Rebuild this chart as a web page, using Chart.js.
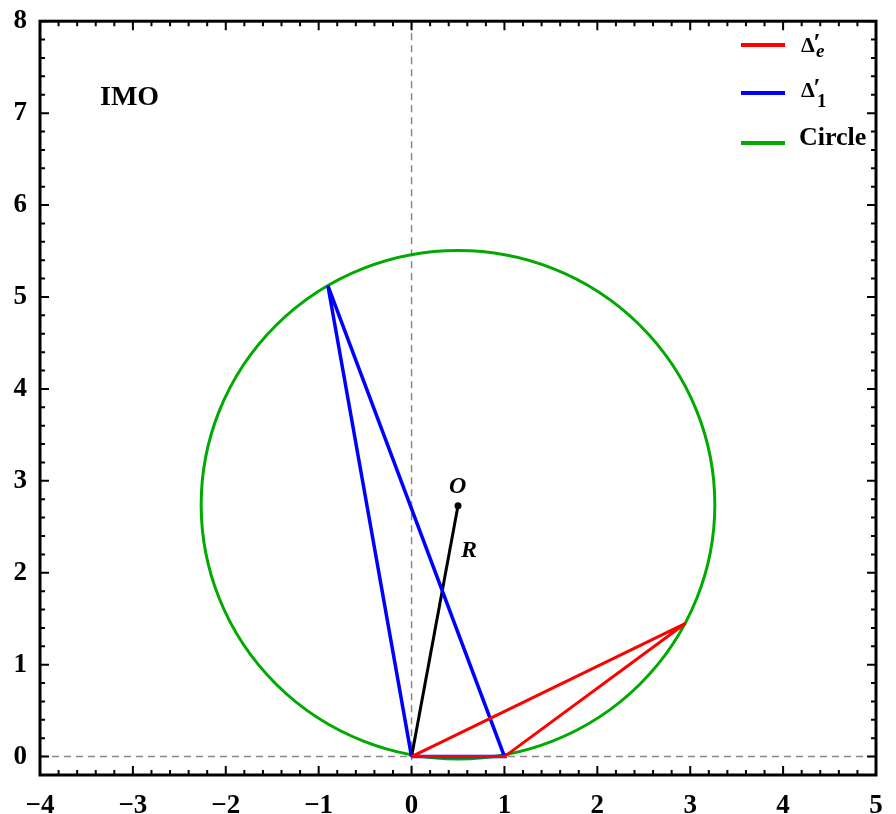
<!DOCTYPE html>
<html>
<head>
<meta charset="utf-8">
<script src="https://cdn.jsdelivr.net/npm/chart.js@4.4.1/dist/chart.umd.min.js"></script>
<style>
  html, body { margin: 0; padding: 0; background: #fff; }
  #wrap { width: 896px; height: 814px; }
</style>
</head>
<body>
<div id="wrap"><canvas id="myChart"></canvas></div>
<script>
// Datos de la figura
const xTicks = [-4, -3, -2, -1, 0, 1, 2, 3, 4, 5]
const yTicks = [0, 1, 2, 3, 4, 5, 6, 7, 8]
const redX = [0, 1, 2.95, 0]
const redY = [0, 0, 1.45, 0]
const blueX = [0, 1, -0.9, 0]
const blueY = [0, 0, 5.12, 0]
const radiusX = [0, 0.5]
const radiusY = [0, 2.73]
const circleCenter = [0.5, 2.74]
const circleRadius = [2.765]
const legendLabels = ['Δ′e', 'Δ′1', 'Circle']

const serif = "'Liberation Serif', 'Times New Roman', serif"
const toPoints = (xs, ys) => xs.map((x, i) => ({ x, y: ys[i] }))

// Circulo, lineas punteadas y marco con ticks
const fondoPlugin = {
    id: 'fondo',
    beforeDatasetsDraw(chart) {
        const { ctx, chartArea: a, scales: { x, y } } = chart
        ctx.save()
        // lineas punteadas en x=0 e y=0
        ctx.strokeStyle = '#888'
        ctx.lineWidth = 1.5
        ctx.setLineDash([7, 5])
        ctx.beginPath()
        ctx.moveTo(x.getPixelForValue(0), a.top)
        ctx.lineTo(x.getPixelForValue(0), a.bottom)
        ctx.moveTo(a.left, y.getPixelForValue(0))
        ctx.lineTo(a.right, y.getPixelForValue(0))
        ctx.stroke()
        ctx.setLineDash([])
        // circulo
        const cx = x.getPixelForValue(circleCenter[0])
        const cy = y.getPixelForValue(circleCenter[1])
        const rx = x.getPixelForValue(circleCenter[0] + circleRadius[0]) - cx
        const ry = cy - y.getPixelForValue(circleCenter[1] + circleRadius[0])
        ctx.strokeStyle = '#00aa00'
        ctx.lineWidth = 3
        ctx.beginPath()
        ctx.ellipse(cx, cy, rx, ry, 0, 0, Math.PI * 2)
        ctx.stroke()
        ctx.restore()
    },
    afterDraw(chart) {
        const { ctx, chartArea: a, scales: { x, y } } = chart
        ctx.save()
        ctx.strokeStyle = '#000'
        ctx.lineWidth = 2
        ctx.beginPath()
        for (let v = -4; v <= 5.001; v += 0.2) {
            const px = x.getPixelForValue(v)
            const len = Math.abs(v - Math.round(v)) < 1e-6 ? 9 : 5
            ctx.moveTo(px, a.bottom); ctx.lineTo(px, a.bottom - len)
            ctx.moveTo(px, a.top); ctx.lineTo(px, a.top + len)
        }
        for (let v = 0; v <= 8.001; v += 0.2) {
            const py = y.getPixelForValue(v)
            const len = Math.abs(v - Math.round(v)) < 1e-6 ? 9 : 5
            ctx.moveTo(a.left, py); ctx.lineTo(a.left + len, py)
            ctx.moveTo(a.right, py); ctx.lineTo(a.right - len, py)
        }
        ctx.stroke()
        ctx.lineWidth = 3
        ctx.strokeRect(a.left, a.top, a.right - a.left, a.bottom - a.top)

        // textos
        ctx.fillStyle = '#000'
        ctx.textBaseline = 'alphabetic'
        ctx.font = `bold 28px ${serif}`
        ctx.fillText('IMO', 100, 105)
        ctx.font = `italic bold 24px ${serif}`
        ctx.fillText('O', 449, 493)
        ctx.fillText('R', 461, 557)

        // leyenda
        const colores = chart.data.datasets.slice(0, 2).map(d => d.borderColor).concat(['#00aa00'])
        const filas = [45, 93, 143]
        filas.forEach((ly, i) => {
            ctx.strokeStyle = colores[i]
            ctx.lineWidth = 4
            ctx.beginPath()
            ctx.moveTo(741, ly); ctx.lineTo(785, ly)
            ctx.stroke()
        })
        ctx.font = `bold 22px ${serif}`
        ctx.fillText('Δ', 801, 52)
        ctx.fillText('Δ', 801, 97)
        ctx.font = `italic bold 26px ${serif}`
        ctx.fillText('′', 813, 51)
        ctx.fillText('′', 813, 96)
        ctx.font = `italic bold 19px ${serif}`
        ctx.fillText('e', 816, 57)
        ctx.font = `bold 19px ${serif}`
        ctx.fillText('1', 817, 107)
        ctx.font = `bold 26px ${serif}`
        ctx.fillText(legendLabels[2], 799, 145)
        ctx.restore()
    }
}

const ctx = document.getElementById('myChart')
new Chart(ctx, {
    type: 'scatter',
    data: {
        datasets: [
            { label: legendLabels[0], data: toPoints(redX, redY), showLine: true, borderColor: '#ff0000', borderWidth: 3, pointRadius: 0, tension: 0 },
            { label: legendLabels[1], data: toPoints(blueX, blueY), showLine: true, borderColor: '#0000ff', borderWidth: 3.5, pointRadius: 0, tension: 0 },
            { label: 'R', data: toPoints(radiusX, radiusY), showLine: true, borderColor: '#000', borderWidth: 3,
              pointRadius: [0, 3.5], pointBackgroundColor: '#000', pointBorderWidth: 0 }
        ]
    },
    options: {
        responsive: true,
        maintainAspectRatio: false,
        animation: false,
        layout: { padding: { top: 15, right: 20, left: 0, bottom: 0 } },
        plugins: { legend: { display: false }, tooltip: { enabled: false } },
        scales: {
            x: {
                type: 'linear', min: -4, max: 5,
                afterBuildTicks: s => { s.ticks = xTicks.map(v => ({ value: v })) },
                afterFit: s => { s.height = 39 },
                grid: { display: false },
                border: { display: false },
                ticks: {
                    color: '#000', padding: 7, maxRotation: 0,
                    font: { family: serif, weight: 'bold', size: 27 },
                    callback: v => v < 0 ? '−' + Math.abs(v) : String(v)
                }
            },
            y: {
                type: 'linear', min: -0.2, max: 8,
                afterBuildTicks: s => { s.ticks = yTicks.map(v => ({ value: v })) },
                afterFit: s => { s.width = 40 },
                grid: { display: false },
                border: { display: false },
                ticks: {
                    color: '#000', padding: 5,
                    font: { family: serif, weight: 'bold', size: 27 }
                }
            }
        }
    },
    plugins: [fondoPlugin]
})
</script>
</body>
</html>
